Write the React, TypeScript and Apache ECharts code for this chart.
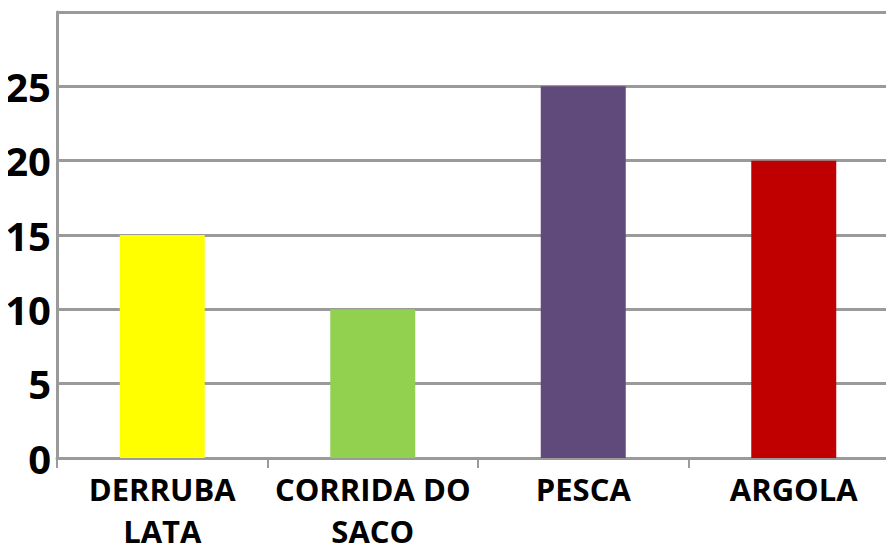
import React, { useEffect, useRef } from "react";
import * as echarts from "echarts";

const categories = ["DERRUBA\nLATA", "CORRIDA DO\nSACO", "PESCA", "ARGOLA"];
const values = [15, 10, 25, 20];
const barColors = ["#FFFF00", "#92D050", "#604A7B", "#C00000"];
const yTicks = [0, 5, 10, 15, 20, 25, 30];

export default function App() {
  const ref = useRef<HTMLDivElement>(null);
  useEffect(() => {
    if (!ref.current) return;
    const chart = echarts.init(ref.current, null, { renderer: "svg" });
    chart.setOption({
      animation: false,
      backgroundColor: "#ffffff",
      grid: { left: 57, right: 6, top: 12, bottom: 90, containLabel: false },
      xAxis: {
        type: "category",
        data: categories,
        axisLine: { show: true, lineStyle: { color: "#9a9a9a", width: 3 } },
        axisTick: { show: true, length: 10, lineStyle: { color: "#9a9a9a", width: 2 } },
        axisLabel: {
          color: "#000",
          fontFamily: "Open Sans",
          fontWeight: "bold",
          fontSize: 31,
          lineHeight: 42,
          margin: 10,
          interval: 0,
        },
      },
      yAxis: {
        type: "value",
        min: yTicks[0],
        max: yTicks[yTicks.length - 1],
        interval: 5,
        axisLine: { show: true, lineStyle: { color: "#9a9a9a", width: 3 } },
        axisTick: { show: false },
        splitLine: { lineStyle: { color: "#9a9a9a", width: 3 } },
        axisLabel: {
          color: "#000",
          fontFamily: "Open Sans",
          fontWeight: "bold",
          fontSize: 40,
          margin: 6,
          formatter: (v: number) => (v === 30 ? "" : String(v)),
        },
      },
      series: [
        {
          type: "bar",
          barWidth: 85,
          data: values.map((v, i) => ({ value: v, itemStyle: { color: barColors[i] } })),
        },
      ],
    });
    return () => chart.dispose();
  }, []);
  return (
    <div style={{ width: 894, height: 552, margin: -8, overflow: "hidden", position: "relative" }}>
      <div ref={ref} style={{ width: 905, height: 552 }} />
    </div>
  );
}
